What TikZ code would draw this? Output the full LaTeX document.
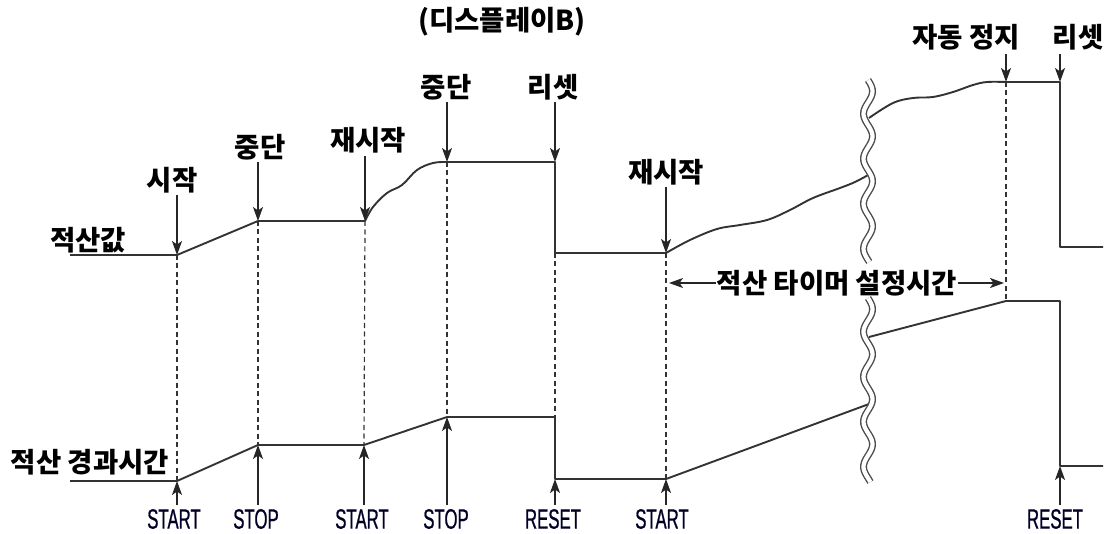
\documentclass[tikz,border=0pt]{standalone}
\usepackage{fontspec}
\newfontfamily\kr{Noto Sans CJK KR}
\newfontfamily\cond[FakeStretch=0.6,FakeBold=0.7]{Liberation Sans}
\usetikzlibrary{arrows.meta}
\tikzset{
  trace/.style={draw=black!80, line width=1.9pt, line join=round},
  guide/.style={draw=black!80, line width=1.2pt, dash pattern=on 5pt off 3.5pt},
  ptr/.style={draw=black!85, line width=1.4pt, -{Stealth[length=14pt,width=10pt,inset=3.5pt]}},
  lab/.style={font=\kr\bfseries\fontsize{27.5}{30}\selectfont, inner sep=0pt},
  key/.style={font=\cond\fontsize{28}{30}\selectfont, text=black!85!blue, inner sep=0pt},
  brk/.style={draw=black!70, double=white, double distance=4.2pt, line width=1.4pt},
}
\begin{document}
\begin{tikzpicture}[x=1pt,y=-1pt]
\useasboundingbox (0,0) rectangle (1107,534);
% ---- key points: upper trace (accumulated value)
\coordinate (u0) at (70,255);
\coordinate (u1) at (177,255);
\coordinate (u2) at (258,221);
\coordinate (u3) at (365,221);
\coordinate (u4) at (447,162);
\coordinate (u5) at (555,162);
\coordinate (u6) at (555,253);
\coordinate (u7) at (666,253);
\coordinate (u10) at (1006,82);
\coordinate (u11) at (1060,82);
\coordinate (u12) at (1060,247);
\coordinate (u13) at (1103,247);
% ---- lower trace (elapsed time)
\coordinate (d0) at (70,481);
\coordinate (d1) at (177,481);
\coordinate (d2) at (258,445);
\coordinate (d3) at (364,445);
\coordinate (d4) at (447,417);
\coordinate (d5) at (555,417);
\coordinate (d6) at (555,479);
\coordinate (d7) at (666,479);
\coordinate (d8) at (869,404);
\coordinate (d9) at (869,337);
\coordinate (d10) at (1006,301);
\coordinate (d11) at (1060,301);
\coordinate (d12) at (1060,466);
\coordinate (d13) at (1103,466);

% ---- dashed guides
\draw[guide] (u1) -- (d1);
\draw[guide] (u2) -- (d2);
\draw[guide] (u3) -- (d3);
\draw[guide] (u4) -- (d4);
\draw[guide] (u6) -- (d5);
\draw[guide] (u7) -- (d7);
\draw[guide] (u10) -- (d10);

% ---- upper trace
\draw[trace] (u0) -- (u1) -- (u2) -- (u3)
  plot[smooth, tension=0.6] coordinates {(365,221) (373,207) (387,193) (402,185) (417,170) (433,163) (447,162)}
  -- (u5) -- (u6) -- (u7)
  plot[smooth, tension=0.6] coordinates {(666,253) (690,240) (717,229) (740,225) (767,220) (790,210) (813,198) (840,188) (855,182) (870,174)};
\draw[trace] plot[smooth, tension=0.6] coordinates {(869,118) (893,103) (913,98) (933,97) (953,92) (973,85) (987,82) (1006,82)}
  -- (u11) -- (u12) -- (u13);

% ---- lower trace
\draw[trace] (d0) -- (d1) -- (d2) -- (d3) -- (d4) -- (d5) -- (d6) -- (d7) -- (d8);
\draw[trace] (d9) -- (d10) -- (d11) -- (d12) -- (d13);

% ---- break marks
\draw[brk] plot[domain=80:262, samples=80, variable=\t] ({868+4.5*sin(8*(\t-80))}, \t);
\draw[brk] plot[domain=298:482, samples=80, variable=\t] ({868+4.5*sin(8*(\t-298))}, \t);

% ---- labels
\node[lab] (title) at (502,22) {(디스플레이B)};
\node[lab] (l1) at (172,180) {시작};
\node[lab] (l2) at (260,147) {중단};
\node[lab] (l3) at (368,140) {재시작};
\node[lab] (l4) at (446,87) {중단};
\node[lab] (l5) at (553,87) {리셋};
\node[lab] (l6) at (666,172) {재시작};
\node[lab] (l7) at (966,37) {자동 정지};
\node[lab] (l8) at (1078,37) {리셋};
\node[lab] (acc) at (88,240) {적산값};
\node[lab] (ela) at (90,462) {적산 경과시간};

\draw[ptr] ([yshift=-2pt]l1.south -| u1) -- (u1);
\draw[ptr] ([yshift=-2pt]l2.south -| u2) -- (u2);
\draw[ptr] ([yshift=-3pt]l3.south -| u3) -- (u3);
\draw[ptr] ([yshift=-2pt]l4.south -| u4) -- (u4);
\draw[ptr] ([yshift=-2pt]l5.south -| u5) -- (u5);
\draw[ptr] ([yshift=-2pt]l6.south -| u7) -- (u7);
\draw[ptr] ([yshift=-4pt]l7.south -| u10) -- (u10);
\draw[ptr] ([yshift=-4pt]l8.south -| u11) -- (u11);

% ---- timer span
\node[lab, inner xsep=1pt] (tm) at (837,283) {적산 타이머 설정시간};
\coordinate (tL) at (669,283);
\coordinate (tR) at (1004,283);
\draw[ptr] (tm.west) -- (tL);
\draw[ptr] (tm.east) -- (tR);

% ---- bottom keys
\node[key] (k1) at (174,519) {START};
\node[key] (k2) at (256,519) {STOP};
\node[key] (k3) at (362,519) {START};
\node[key] (k4) at (446,519) {STOP};
\node[key] (k5) at (553,519) {RESET};
\node[key] (k6) at (662,519) {START};
\node[key] (k7) at (1055,519) {RESET};

\draw[ptr] ([yshift=4pt]k1.north -| d1) -- (d1);
\draw[ptr] ([yshift=4pt]k2.north -| d2) -- (d2);
\draw[ptr] ([yshift=4pt]k3.north -| d3) -- (d3);
\draw[ptr] ([yshift=4pt]k4.north -| d4) -- (d4);
\draw[ptr] ([yshift=4pt]k5.north -| d6) -- (d6);
\draw[ptr] ([yshift=4pt]k6.north -| d7) -- (d7);
\draw[ptr] ([yshift=4pt]k7.north -| d12) -- (d12);
\end{tikzpicture}
\end{document}
